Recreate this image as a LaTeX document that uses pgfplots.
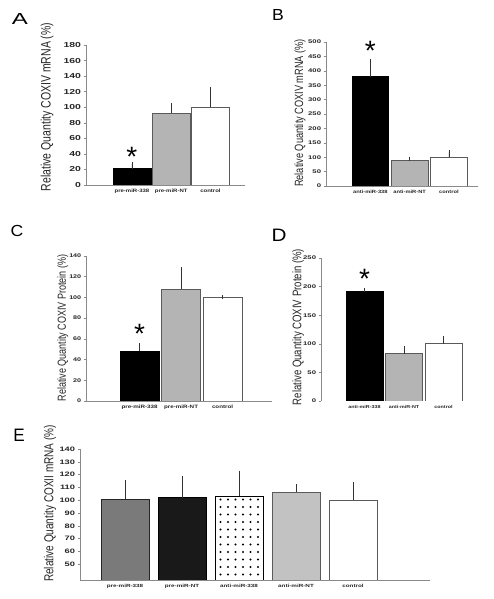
\documentclass[border=0pt]{standalone}
\usepackage{pgfplots}
\pgfplotsset{compat=1.18}
\usepackage{fontspec}
\setmainfont{Liberation Sans}
\usetikzlibrary{patterns.meta}

\definecolor{axgray}{HTML}{8A8A8A}
\definecolor{midgray}{HTML}{B4B4B4}
\definecolor{edgegray}{HTML}{5A5A5A}
\definecolor{dkgray}{HTML}{7A7A7A}
\definecolor{ltgray}{HTML}{C2C2C2}

\newcommand{\fs}[1]{\fontsize{#1}{#1}\selectfont\bfseries}
\newcommand{\fn}[1]{\fontsize{#1}{#1}\selectfont}

\pgfplotsset{
 panel/.style={
  scale only axis,
  axis x line=bottom, axis y line=left,
  axis line style={axgray,-, line width=0.6pt},
  ymin=0,
  xtick={0,1,2},
  xtick style={draw=none},
  ytick style={axgray, line width=0.5pt},
  tick align=outside,
  major tick length=2.5pt,
  /pgf/number format/assume math mode=true,
  yticklabel style={text=black!85, inner sep=1.5pt},
  xticklabel style={text=black!85, inner sep=1.5pt},
  ylabel style={text=black!85, anchor=center, yscale=1.3},
  clip mode=individual,
 },
 mybar/.style={ybar, bar shift=0pt, line width=0.7pt,
   error bars/y dir=plus, error bars/y explicit,
   error bars/error bar style={black!80, line width=0.6pt},
   error bars/error mark options={black!80, line width=0.6pt, mark size=2pt}},
}
\tikzset{sigstar/.style={font=\fn{28}, inner sep=0pt, yshift=-6pt}}

\begin{document}
\begin{tikzpicture}
\useasboundingbox (0pt,0pt) rectangle (494pt,599pt);

% panel letters
\node[font=\fn{16}, xscale=1.5, inner sep=0pt] at (20pt,580pt) {A};
\node[font=\fn{16}, xscale=1.1, inner sep=0pt] at (278pt,584pt) {B};
\node[font=\fn{16}, xscale=1.1, inner sep=0pt] at (17pt,368pt) {C};
\node[font=\fn{18}, xscale=1.15, inner sep=0pt] at (279pt,364pt) {D};
\node[font=\fn{18}, xscale=0.95, inner sep=0pt] at (19pt,164pt) {E};

% ---------------- A
\begin{axis}[panel, at={(86pt,414pt)}, anchor=south west,
  width=159pt, height=140pt, xmin=-1.17, xmax=2.88, ymax=180,
  ytick={0,20,...,180}, bar width=0.97,
  xticklabels={pre-miR-338, pre-miR-NT, control},
  yticklabel style={font=\fs{7.2}, xscale=1.45},
  xticklabel style={font=\fs{4.8}, xscale=1.25},
  ylabel={Relative Quantity COXIV mRNA (\%)},
  ylabel style={font=\fn{10.5}, at={(axis description cs:-0.245,0.557)}},
]
\addplot[mybar, fill=black, draw=black] coordinates {(0,21) +- (0,6)};
\addplot[mybar, fill=midgray, draw=edgegray] coordinates {(1,92) +- (0,11)};
\addplot[mybar, fill=white, draw=edgegray] coordinates {(2,100) +- (0,24)};
\node[sigstar] at (axis cs:0,43.7) {*};
\end{axis}

% ---------------- B
\begin{axis}[panel, at={(326pt,413pt)}, anchor=south west,
  width=152pt, height=144pt, xmin=-1.13, xmax=2.74, ymax=500,
  ytick={0,50,...,500}, bar width=0.94,
  xticklabels={anti-miR-338, anti-miR-NT, control},
  yticklabel style={font=\fs{5.3}, xscale=1.45},
  xticklabel style={font=\fs{4.6}, xscale=1.25},
  ylabel={Relative Quantity COXIV mRNA (\%)},
  ylabel style={font=\fn{9.2}, at={(axis description cs:-0.171,0.507)}},
]
\addplot[mybar, fill=black, draw=black] coordinates {(0,380) +- (0,55)};
\addplot[mybar, fill=midgray, draw=edgegray] coordinates {(1,88) +- (0,7)};
\addplot[mybar, fill=white, draw=edgegray] coordinates {(2,100) +- (0,17)};
\node[sigstar] at (axis cs:0,489) {*};
\end{axis}

% ---------------- C
\begin{axis}[panel, at={(86pt,198pt)}, anchor=south west,
  width=186pt, height=145pt, xmin=-1.29, xmax=3.19, ymax=140,
  ytick={0,20,...,140}, bar width=0.94,
  xticklabels={pre-miR-338, pre-miR-NT, control},
  yticklabel style={font=\fs{5.3}, xscale=1.35},
  xticklabel style={font=\fs{4.8}, xscale=1.3},
  ylabel={Relative Quantity COXIV Protein (\%)},
  ylabel style={font=\fn{9}, at={(axis description cs:-0.124,0.503)}},
]
\addplot[mybar, fill=black, draw=black] coordinates {(0,48) +- (0,6)};
\addplot[mybar, fill=midgray, draw=edgegray] coordinates {(1,108) +- (0,19)};
\addplot[mybar, fill=white, draw=edgegray] coordinates {(2,100) +- (0,0.6)};
\node[sigstar] at (axis cs:0,70.5) {*};
\end{axis}

% ---------------- D
\begin{axis}[panel, at={(321pt,198pt)}, anchor=south west,
  width=149pt, height=143pt, xmin=-1.10, xmax=2.67, ymax=250,
  ytick={0,50,...,250}, bar width=0.94,
  x axis line style={draw=none},
  xticklabels={anti-miR-338, anti-miR-NT, control},
  yticklabel style={font=\fs{5.3}, xscale=1.45},
  xticklabel style={font=\fs{4.3}, xscale=1.25},
  ylabel={Relative Quantity COXIV Protein (\%)},
  ylabel style={font=\fn{9.6}, at={(axis description cs:-0.154,0.517)}},
]
\addplot[mybar, fill=black, draw=black] coordinates {(0,192) +- (0,2)};
\addplot[mybar, fill=midgray, draw=edgegray] coordinates {(1,83) +- (0,10)};
\addplot[mybar, fill=white, draw=edgegray] coordinates {(2,100) +- (0,10)};
\node[sigstar] at (axis cs:0,224) {*};
\end{axis}

% ---------------- E
\begin{axis}[panel, at={(80pt,19pt)}, anchor=south west,
  width=350pt, height=131pt, xmin=-0.79, xmax=5.35, ymin=37.7, ymax=140,
  ytick={50,60,...,140}, bar width=0.84,
  xtick={0,1,2,3,4},
  xticklabels={pre-miR-338, pre-miR-NT, anti-miR-338, anti-miR-NT, control},
  yticklabel style={font=\fs{6.4}, xscale=1.45},
  xticklabel style={font=\fs{4.5}, xscale=1.4},
  ylabel={Relative Quantity COXII mRNA (\%)},
  ylabel style={font=\fn{10}, at={(axis description cs:-0.086,0.584)}},
]
\addplot[mybar, fill=dkgray, draw=black!85] coordinates {(0,101) +- (0,13.5)};
\addplot[mybar, fill=black!90, draw=black] coordinates {(1,102) +- (0,15)};
\addplot[mybar, draw=black, line width=0.9pt, pattern={Dots[distance=7.5pt, radius=1.1pt, xshift=3pt, yshift=2pt]}, pattern color=black] coordinates {(2,103) +- (0,18.5)};
\addplot[mybar, fill=ltgray, draw=edgegray] coordinates {(3,106.5) +- (0,4.5)};
\addplot[mybar, fill=white, draw=edgegray] coordinates {(4,100) +- (0,12.5)};
\end{axis}
\end{tikzpicture}
\end{document}
